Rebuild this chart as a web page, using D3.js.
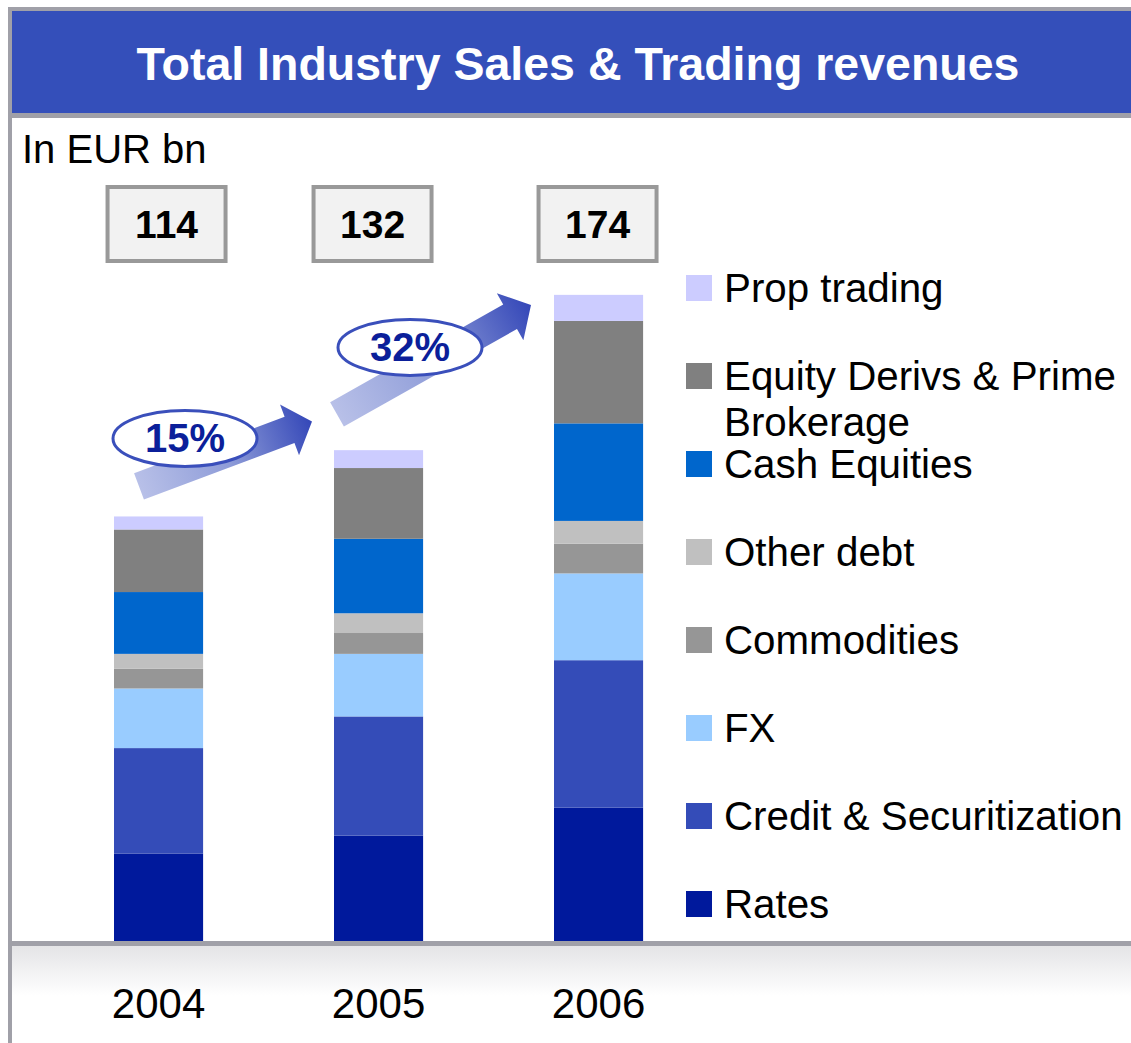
<!DOCTYPE html>
<html>
<head>
<meta charset="utf-8">
<script src="https://cdnjs.cloudflare.com/ajax/libs/d3/7.8.5/d3.min.js"></script>
<style>
  body { margin: 0; background: #fff; }
  svg text { font-family: "Liberation Sans", Arial, sans-serif; }
</style>
</head>
<body>
<div id="graph"></div>
<script>
// data, bottom of the stack first
var years       = ["2004", "2005", "2006"];
var seriesNames = ["Rates", "Credit & Securitization", "FX", "Commodities", "Other debt",
                   "Cash Equities", "Equity Derivs & Prime Brokerage", "Prop trading"];
var rates       = [23.5, 28.3, 35.8];
var credit      = [28.3, 32.0, 39.6];
var fx          = [16.0, 16.8, 23.3];
var commodities = [5.3, 5.6, 8.0];
var otherDebt   = [4.0, 5.3, 6.1];
var cashEq      = [16.6, 20.0, 26.2];
var equityDer   = [16.8, 19.0, 27.5];
var propTrading = [3.5, 4.8, 7.0];
var totals      = [114, 132, 174];
var growth      = ["15%", "32%"];
var colors      = ["#00199C", "#344CB8", "#99CCFF", "#969696", "#C0C0C0",
                   "#0066CC", "#808080", "#CCCCFF"];

var width  = 1131,
    height = 1043,
    base   = 941;

var svg = d3.select("#graph")
  .append("svg")
  .attr("width", width)
  .attr("height", height);

var defs = svg.append("defs");

var shade = defs.append("linearGradient")
  .attr("id", "shade")
  .attr("x1", 0).attr("y1", 0).attr("x2", 0).attr("y2", 1);
shade.append("stop").attr("offset", "0%").attr("stop-color", "#E4E4E6");
shade.append("stop").attr("offset", "100%").attr("stop-color", "#FFFFFF");

var arrowFill = defs.append("linearGradient")
  .attr("id", "arrowFill")
  .attr("x1", 0).attr("y1", 0).attr("x2", 1).attr("y2", 0);
arrowFill.append("stop").attr("offset", "0%").attr("stop-color", "#B8C0E8");
arrowFill.append("stop").attr("offset", "50%").attr("stop-color", "#8E9CD8");
arrowFill.append("stop").attr("offset", "100%").attr("stop-color", "#3447B8");

// frame + title bar
svg.append("rect")
  .attr("x", 10).attr("y", 7)
  .attr("width", width - 10).attr("height", 111)
  .attr("fill", "#A0A0A8");
svg.append("rect")
  .attr("x", 12).attr("y", 11)
  .attr("width", width - 12).attr("height", 102)
  .attr("fill", "#344FBA");
svg.append("text")
  .attr("x", 578).attr("y", 80)
  .attr("text-anchor", "middle")
  .attr("fill", "#fff")
  .attr("font-weight", "bold")
  .attr("font-size", "46.5px")
  .text("Total Industry Sales & Trading revenues");

svg.append("rect")
  .attr("x", 8).attr("y", 7)
  .attr("width", 4).attr("height", height)
  .attr("fill", "#A0A0A8");

svg.append("text")
  .attr("x", 22).attr("y", 163)
  .attr("font-size", "40px")
  .attr("fill", "#000")
  .text("In EUR bn");

// scales
var x = d3.scaleBand()
  .domain(years)
  .range([48, 709.1])
  .paddingInner(0.595)
  .paddingOuter(0.3);

var y = d3.scaleLinear()
  .domain([0, 174])
  .range([base, 293]);

// build rows for the stack
var rows = years.map(function (yr, i) {
  var r = { year: yr };
  r[seriesNames[0]] = rates[i];
  r[seriesNames[1]] = credit[i];
  r[seriesNames[2]] = fx[i];
  r[seriesNames[3]] = commodities[i];
  r[seriesNames[4]] = otherDebt[i];
  r[seriesNames[5]] = cashEq[i];
  r[seriesNames[6]] = equityDer[i];
  r[seriesNames[7]] = propTrading[i];
  return r;
});

var stack = d3.stack().keys(seriesNames)(rows);

// shaded floor under the baseline
svg.append("rect")
  .attr("x", 12).attr("y", base + 5)
  .attr("width", width - 12).attr("height", 50)
  .attr("fill", "url(#shade)");

svg.selectAll("g.layer")
  .data(stack)
  .enter()
  .append("g")
  .attr("class", "layer")
  .attr("fill", function (d, i) { return colors[i]; })
  .selectAll("rect")
  .data(function (d) { return d; })
  .enter()
  .append("rect")
  .attr("x", function (d) { return x(d.data.year); })
  .attr("width", x.bandwidth())
  .attr("y", function (d) { return y(d[1]); })
  .attr("height", function (d) { return y(d[0]) - y(d[1]); });

// baseline
svg.append("rect")
  .attr("x", 12).attr("y", base)
  .attr("width", width - 12).attr("height", 5)
  .attr("fill", "#A0A0A8");

// year labels
var xAxis = d3.axisBottom(x).tickSize(0).tickPadding(0);
var axisG = svg.append("g")
  .attr("transform", "translate(0," + (base + 5) + ")")
  .call(xAxis);
axisG.select(".domain").remove();
axisG.selectAll("text")
  .attr("y", 72)
  .attr("dy", 0)
  .attr("font-size", "42px")
  .attr("font-family", "Liberation Sans, Arial, sans-serif")
  .attr("fill", "#000");

// total boxes (not quite centred over the bars in the original)
var boxShift = [8, -6, -1];
var boxes = svg.selectAll("g.total")
  .data(totals)
  .enter()
  .append("g")
  .attr("class", "total")
  .attr("transform", function (d, i) {
    return "translate(" + (x(years[i]) + x.bandwidth() / 2 + boxShift[i]) + ",224)";
  });
boxes.append("rect")
  .attr("x", -59).attr("y", -37)
  .attr("width", 118).attr("height", 74)
  .attr("fill", "#F2F2F2")
  .attr("stroke", "#999999")
  .attr("stroke-width", 4);
boxes.append("text")
  .attr("text-anchor", "middle")
  .attr("y", 14)
  .attr("font-size", "39px")
  .attr("font-weight", "bold")
  .attr("fill", "#000")
  .text(function (d) { return d; });

// growth arrows between bars
var arrows = [
  { tail: [x(years[0]) + 25, y(totals[0]) - 30], tip: [x(years[1]) - 22, y(totals[1]) - 28],
    label: growth[0], ell: [x(years[0]) + 71, y(totals[0]) - 78] },
  { tail: [x(years[1]) + 3, y(totals[1]) - 35], tip: [x(years[2]) - 23, y(totals[2]) + 12],
    label: growth[1], ell: [x(years[1]) + 76, y(totals[1]) - 102] }
];

arrows.forEach(function (a) {
  var dx  = a.tip[0] - a.tail[0],
      dy  = a.tip[1] - a.tail[1],
      len = Math.sqrt(dx * dx + dy * dy),
      ang = Math.atan2(dy, dx) * 180 / Math.PI,
      hl  = 24, sw = 14, hw = 27;

  var pts = [[0, -sw], [len - hl, -sw], [len - hl, -hw], [len, 0],
             [len - hl, hw], [len - hl, sw], [0, sw]];

  svg.append("path")
    .attr("transform", "translate(" + a.tail[0] + "," + a.tail[1] + ") rotate(" + ang + ")")
    .attr("d", d3.line()(pts) + "Z")
    .attr("fill", "url(#arrowFill)");

  svg.append("ellipse")
    .attr("cx", a.ell[0]).attr("cy", a.ell[1])
    .attr("rx", 72).attr("ry", 28)
    .attr("fill", "#fff")
    .attr("stroke", "#3A4FBB")
    .attr("stroke-width", 3);

  svg.append("text")
    .attr("x", a.ell[0]).attr("y", a.ell[1] + 14)
    .attr("text-anchor", "middle")
    .attr("font-size", "40px")
    .attr("font-weight", "bold")
    .attr("fill", "#0B1F9A")
    .text(a.label);
});

// legend, top item first
var legendNames = seriesNames.slice().reverse();
var legendCols  = colors.slice().reverse();

var legend = svg.selectAll("g.legend")
  .data(legendNames)
  .enter()
  .append("g")
  .attr("class", "legend")
  .attr("transform", function (d, i) { return "translate(686," + (288 + i * 88.0) + ")"; });

legend.append("rect")
  .attr("x", 0).attr("y", -13)
  .attr("width", 26).attr("height", 26)
  .attr("fill", function (d, i) { return legendCols[i]; });

legend.append("text")
  .attr("x", 38).attr("y", 14)
  .attr("font-size", "40.3px")
  .attr("fill", "#000")
  .each(function (d) {
    var t = d3.select(this);
    if (d === "Equity Derivs & Prime Brokerage") {
      t.append("tspan").attr("x", 38).text("Equity Derivs & Prime");
      t.append("tspan").attr("x", 38).attr("dy", 46).text("Brokerage");
    } else {
      t.text(d);
    }
  });
</script>
</body>
</html>
